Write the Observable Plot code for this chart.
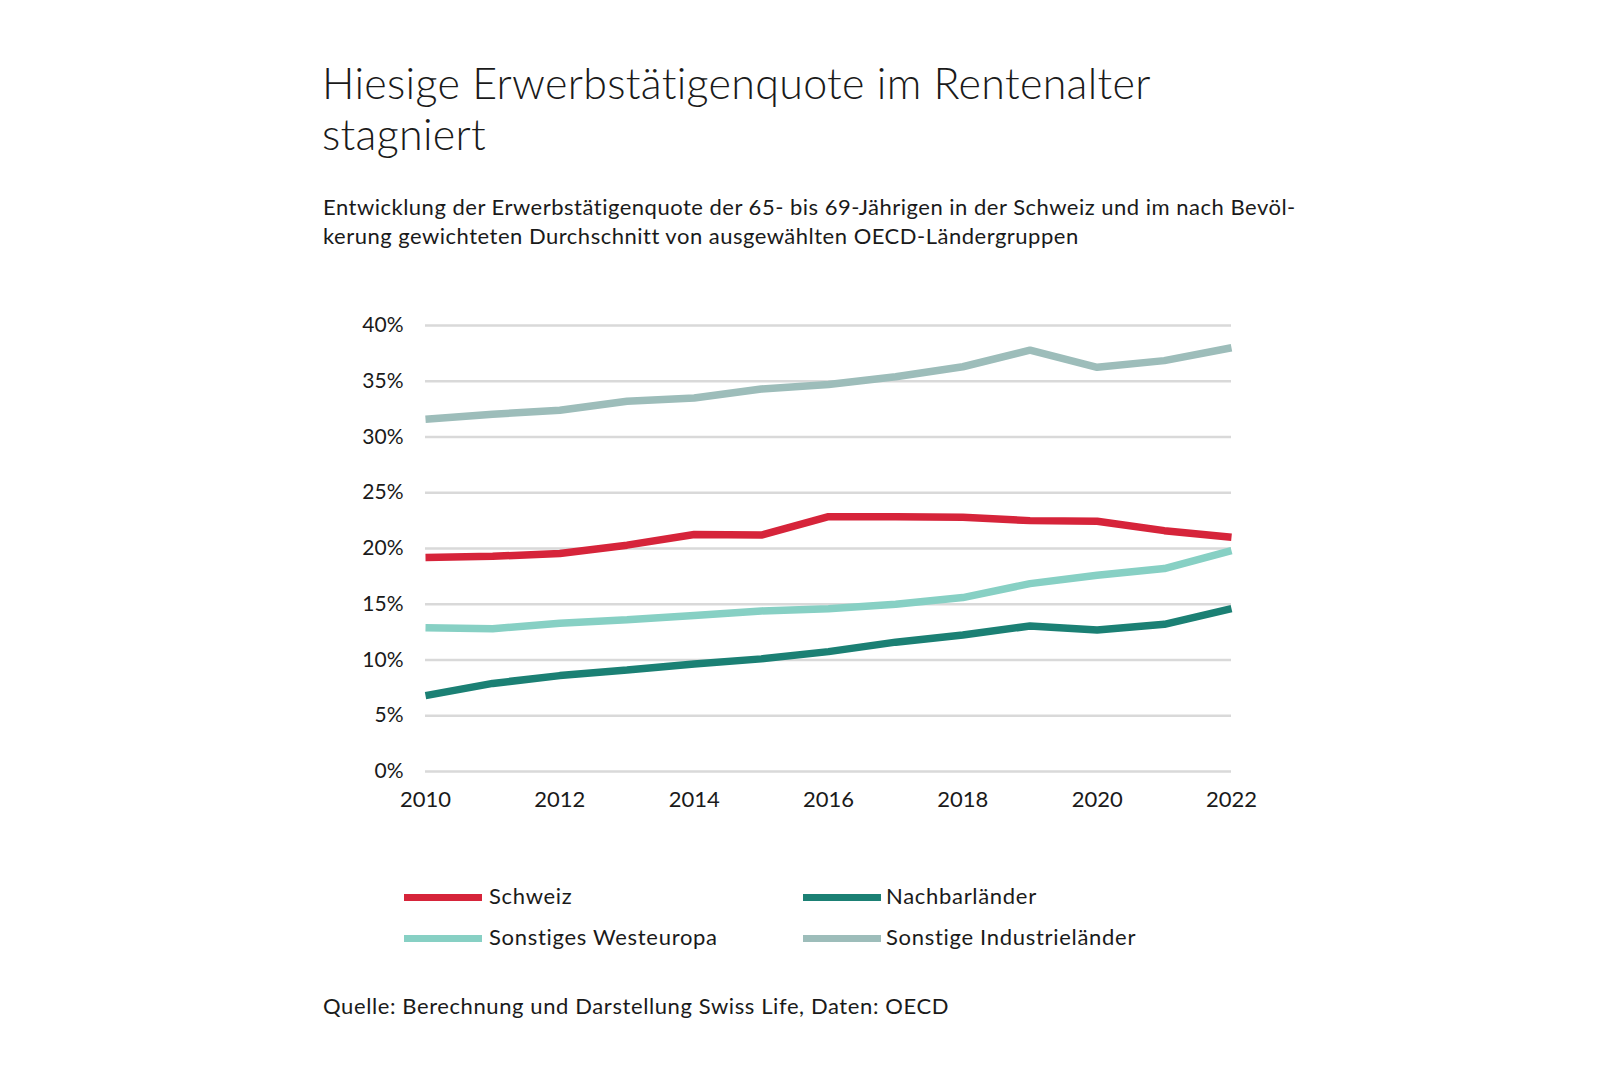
<!DOCTYPE html>
<html>
<head>
<meta charset="utf-8">
<script src="https://cdn.jsdelivr.net/npm/d3@7"></script>
<script src="https://cdn.jsdelivr.net/npm/@observablehq/plot@0.6"></script>
<style>
  html, body { margin: 0; padding: 0; background: #fff; }
  body { width: 1620px; height: 1080px; position: relative; font-family: Lato, "Open Sans", sans-serif; color: #1a1a1a; overflow: hidden; }
  .abs { position: absolute; white-space: nowrap; }
  #title { left: 322px; top: 57px; font-size: 43px; line-height: 51px; font-weight: 300; letter-spacing: 0.3px; }
  #subtitle { left: 323px; top: 192px; font-size: 22px; line-height: 29px; font-weight: 400; letter-spacing: 0.5px; }
  #chart { left: 0; top: 290px; }
  .lg-sw { position: absolute; height: 7px; width: 78px; }
  .lg-tx { position: absolute; font-size: 22px; line-height: 26px; white-space: nowrap; letter-spacing: 0.7px; }
  #source { left: 323px; top: 993px; font-size: 22px; line-height: 26px; letter-spacing: 0.6px; }
</style>
</head>
<body>
<div id="title" class="abs">Hiesige Erwerbstätigenquote im Rentenalter<br>stagniert</div>
<div id="subtitle" class="abs">Entwicklung der Erwerbstätigenquote der 65- bis 69-Jährigen in der Schweiz und im nach Bevöl-<br>kerung gewichteten Durchschnitt von ausgewählten OECD-Ländergruppen</div>
<div id="chart" class="abs"></div>
<div id="legend"></div>
<div id="source" class="abs">Quelle: Berechnung und Darstellung Swiss Life, Daten: OECD</div>
<script>
const years = [2010, 2011, 2012, 2013, 2014, 2015, 2016, 2017, 2018, 2019, 2020, 2021, 2022];
const schweiz = [19.2, 19.3, 19.55, 20.3, 21.25, 21.2, 22.85, 22.85, 22.8, 22.5, 22.45, 21.6, 21.0];
const nachbarlaender = [6.8, 7.9, 8.6, 9.1, 9.65, 10.1, 10.75, 11.6, 12.25, 13.05, 12.7, 13.2, 14.6];
const westeuropa = [12.9, 12.8, 13.3, 13.6, 14.0, 14.4, 14.6, 15.0, 15.6, 16.85, 17.6, 18.2, 19.8];
const industrie = [31.6, 32.05, 32.4, 33.2, 33.5, 34.3, 34.7, 35.4, 36.3, 37.8, 36.25, 36.85, 38.0];
const seriesNames = ["Schweiz", "Nachbarländer", "Sonstiges Westeuropa", "Sonstige Industrieländer"];
const seriesColors = ["#d6243a", "#1b8074", "#87d0c4", "#9dbdba"];
const yTicks = [0, 5, 10, 15, 20, 25, 30, 35, 40];
const xTicks = [2010, 2012, 2014, 2016, 2018, 2020, 2022];

const seriesValues = [schweiz, nachbarlaender, westeuropa, industrie];
const rows = [];
seriesNames.forEach((name, i) => {
  years.forEach((yr, j) => rows.push({ series: name, year: yr, value: seriesValues[i][j] }));
});
const drawOrder = [3, 2, 1, 0];

const marks = [
  Plot.ruleY(yTicks, { x1: years[0], x2: years[years.length - 1], stroke: "#d9d9d9", strokeWidth: 2.5 }),
  ...drawOrder.map(i => Plot.line(rows.filter(r => r.series === seriesNames[i]), {
    x: "year", y: "value", stroke: seriesColors[i], strokeWidth: 7.5, strokeLinejoin: "miter", strokeLinecap: "butt"
  })),
  Plot.axisY({ ticks: yTicks, tickSize: 0, tickPadding: 22, tickFormat: d => d + "%", fontSize: 21, label: null }),
  Plot.axisX({ ticks: xTicks, tickSize: 0, tickPadding: 20, tickFormat: d => String(d), fontSize: 22, label: null })
];

const chart = Plot.plot({
  width: 1620,
  height: 540,
  marginLeft: 425,
  marginRight: 389,
  marginTop: 35,
  marginBottom: 59,
  x: { domain: [2010, 2022] },
  y: { domain: [0, 40] },
  style: { fontFamily: "Lato, 'Open Sans', sans-serif", color: "#1a1a1a", background: "transparent", overflow: "visible" },
  marks
});
document.getElementById("chart").appendChild(chart);

// legend
const legend = document.getElementById("legend");
const legendPos = [
  { sx: 404, tx: 489, y: 897 },
  { sx: 803, tx: 886, y: 897 },
  { sx: 404, tx: 489, y: 938 },
  { sx: 803, tx: 886, y: 938 }
];
seriesNames.forEach((name, i) => {
  const p = legendPos[i];
  const sw = document.createElement("div");
  sw.className = "lg-sw";
  sw.style.left = p.sx + "px";
  sw.style.top = (p.y - 3.5) + "px";
  sw.style.background = seriesColors[i];
  legend.appendChild(sw);
  const tx = document.createElement("div");
  tx.className = "lg-tx";
  tx.style.left = p.tx + "px";
  tx.style.top = (p.y - 14) + "px";
  tx.textContent = name;
  legend.appendChild(tx);
});
</script>
</body>
</html>
